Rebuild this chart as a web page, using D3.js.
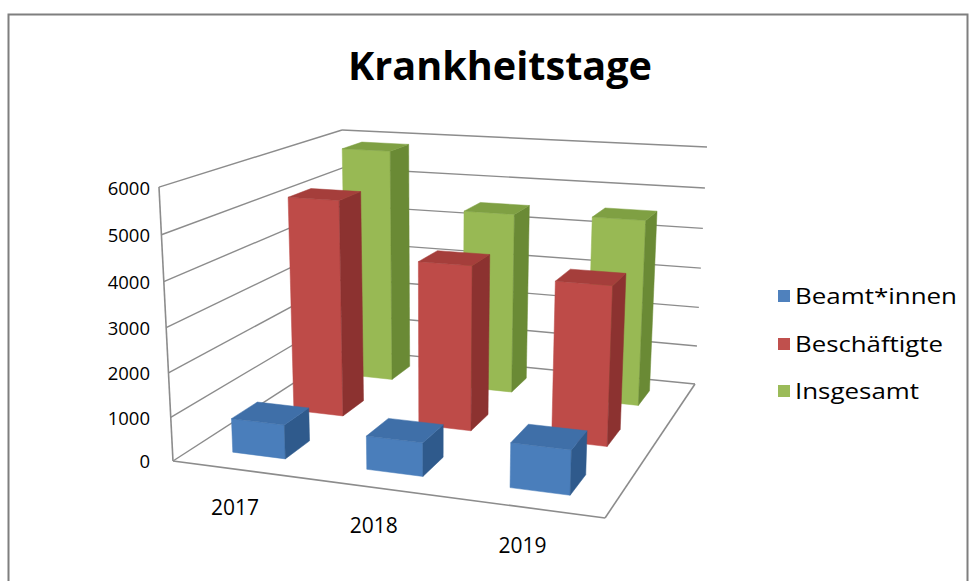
<!DOCTYPE html>
<html><head><meta charset="utf-8">
<script src="https://cdn.jsdelivr.net/npm/d3@7"></script>
<style>body{margin:0;background:#fff}</style>
</head><body>
<svg id="chart" width="974" height="581"></svg>
<script>
// ---------- data ----------
const categories = ["2017", "2018", "2019"];
const seriesNames = ["Beamt*innen", "Beschäftigte", "Insgesamt"];
const beamt = [780, 750, 980];
const beschaeftigte = [5160, 3880, 3680];
const insgesamt = [5850, 4480, 4535];
const yTicks = [0, 1000, 2000, 3000, 4000, 5000, 6000];
const seriesValues = [beamt, beschaeftigte, insgesamt];

// ---------- styles ----------
const faceColors = [
  {front: "#4A7EBB", top: "#3F6FA8", right: "#2F5A8C", left: "#3F6FA8"},
  {front: "#BE4B48", top: "#A53E3B", right: "#8C3230", left: "#A53E3B"},
  {front: "#98B954", top: "#7FA043", right: "#6A8A35", left: "#7FA043"}
];
const legendColors = ["#4F81BD", "#C0504D", "#9BBB59"];
const legendWidths = [162, 148, 124];
const gridColor = "#8C8C8C";

const svg = d3.select("#chart");

// ---------- world scales ----------
const xBand = d3.scaleBand().domain(categories).range([0, 3]).paddingInner(0.6).paddingOuter(0.3);
const zBand = d3.scaleBand().domain(seriesNames).range([0, 3]).paddingInner(0.6).paddingOuter(0.3);
const yWorld = d3.scaleLinear().domain([0, 6000]).range([0, 6]);
const X1 = 3, Z1 = 3, Y1 = yWorld(6000);

// ---------- camera calibration (world corners -> picture) ----------
const calib = [
  [[0, 0, 0], [173, 461]],
  [[0, 6, 0], [159, 187]],
  [[0, 6, 3], [342, 130]],
  [[3, 6, 3], [707, 147]],
  [[3, 0, 3], [695, 384]],
  [[3, 0, 0], [605, 518]]
];
function solveDLT(pts) {
  const A = [], b = [];
  pts.forEach(([[x, y, z], [u, v]]) => {
    A.push([x, y, z, 1, 0, 0, 0, 0, -u * x, -u * y, -u * z]); b.push(u);
    A.push([0, 0, 0, 0, x, y, z, 1, -v * x, -v * y, -v * z]); b.push(v);
  });
  const n = 11;
  const M = Array.from({length: n}, () => new Array(n + 1).fill(0));
  for (let i = 0; i < n; i++) {
    for (let j = 0; j < n; j++) {
      let s = 0; for (let k = 0; k < A.length; k++) s += A[k][i] * A[k][j];
      M[i][j] = s;
    }
    let s = 0; for (let k = 0; k < A.length; k++) s += A[k][i] * b[k];
    M[i][n] = s;
  }
  for (let c = 0; c < n; c++) {
    let p = c;
    for (let r = c + 1; r < n; r++) if (Math.abs(M[r][c]) > Math.abs(M[p][c])) p = r;
    [M[c], M[p]] = [M[p], M[c]];
    for (let r = 0; r < n; r++) {
      if (r === c) continue;
      const f = M[r][c] / M[c][c];
      for (let k = c; k <= n; k++) M[r][k] -= f * M[c][k];
    }
  }
  return M.map((row, i) => row[n] / row[i]);
}
const P = solveDLT(calib);
function proj([x, y, z]) {
  const w = P[8] * x + P[9] * y + P[10] * z + 1;
  return [(P[0] * x + P[1] * y + P[2] * z + P[3]) / w,
          (P[4] * x + P[5] * y + P[6] * z + P[7]) / w];
}
const line = d3.line();
const poly = pts => line(pts.map(proj)) + "Z";
const seg = (a, b) => line([proj(a), proj(b)]);

// ---------- frame ----------
svg.append("rect").attr("x", 8.5).attr("y", 14.5).attr("width", 959).attr("height", 580)
  .attr("fill", "#fff").attr("stroke", "#7F7F7F").attr("stroke-width", 2);

// ---------- title ----------
svg.append("text").attr("x", 500).attr("y", 80).attr("text-anchor", "middle")
  .attr("font-family", "Open Sans, sans-serif").attr("font-weight", "bold")
  .attr("font-size", 40).attr("textLength", 304).attr("lengthAdjust", "spacingAndGlyphs")
  .attr("fill", "#000").text("Krankheitstage");

// ---------- walls & floor ----------
const g = svg.append("g");
g.append("path").attr("d", poly([[0, 0, 0], [0, 0, Z1], [0, Y1, Z1], [0, Y1, 0]])).attr("fill", "#fff");
g.append("path").attr("d", poly([[0, 0, Z1], [X1, 0, Z1], [X1, Y1, Z1], [0, Y1, Z1]])).attr("fill", "#fff");
g.append("path").attr("d", poly([[0, 0, 0], [X1, 0, 0], [X1, 0, Z1], [0, 0, Z1]])).attr("fill", "#fff");

yTicks.forEach(t => {
  const y = yWorld(t);
  g.append("path").attr("d", seg([0, y, 0], [0, y, Z1])).attr("stroke", gridColor).attr("stroke-width", 1.4).attr("fill", "none");
  g.append("path").attr("d", seg([0, y, Z1], [X1, y, Z1])).attr("stroke", gridColor).attr("stroke-width", 1.4).attr("fill", "none");
});
g.append("path").attr("d", seg([0, 0, 0], [0, Y1, 0])).attr("stroke", gridColor).attr("stroke-width", 1.6).attr("fill", "none");
g.append("path").attr("d", seg([0, 0, 0], [X1, 0, 0])).attr("stroke", gridColor).attr("stroke-width", 1.6).attr("fill", "none");
g.append("path").attr("d", seg([X1, 0, 0], [X1, 0, Z1])).attr("stroke", gridColor).attr("stroke-width", 1.6).attr("fill", "none");

// ---------- bars ----------
function boxFaces(x0, x1, y0, y1, z0, z1) {
  return [
    {k: "front", p: [[x0, y0, z0], [x1, y0, z0], [x1, y1, z0], [x0, y1, z0]]},
    {k: "back",  p: [[x1, y0, z1], [x0, y0, z1], [x0, y1, z1], [x1, y1, z1]]},
    {k: "left",  p: [[x0, y0, z1], [x0, y0, z0], [x0, y1, z0], [x0, y1, z1]]},
    {k: "right", p: [[x1, y0, z0], [x1, y0, z1], [x1, y1, z1], [x1, y1, z0]]},
    {k: "top",   p: [[x0, y1, z0], [x1, y1, z0], [x1, y1, z1], [x0, y1, z1]]}
  ];
}
function signedArea(pts) {
  let s = 0;
  for (let i = 0; i < pts.length; i++) {
    const a = pts[i], b = pts[(i + 1) % pts.length];
    s += a[0] * b[1] - b[0] * a[1];
  }
  return s / 2;
}
const barsG = svg.append("g");
for (let s = seriesNames.length - 1; s >= 0; s--) {
  const z0 = zBand(seriesNames[s]), z1 = z0 + zBand.bandwidth();
  categories.forEach((c, i) => {
    const x0 = xBand(c), x1 = x0 + xBand.bandwidth();
    const y1 = yWorld(seriesValues[s][i]);
    boxFaces(x0, x1, 0, y1, z0, z1).forEach(f => {
      const pts = f.p.map(proj);
      if (signedArea(pts) < 0) {
        barsG.append("path").attr("d", line(pts) + "Z")
          .attr("fill", faceColors[s][f.k] || faceColors[s].front)
          .attr("stroke", faceColors[s][f.k] || faceColors[s].front).attr("stroke-width", 0.5)
          .attr("stroke-linejoin", "round");
      }
    });
  });
}

// ---------- y axis labels ----------
const labelX = proj([0, Y1, 0])[0] - 9;
yTicks.forEach(t => {
  svg.append("text").attr("x", labelX).attr("y", proj([0, yWorld(t), 0])[1])
    .attr("text-anchor", "end").attr("dominant-baseline", "central")
    .attr("font-family", "Open Sans, sans-serif").attr("font-size", 18.5).attr("fill", "#000")
    .text(t);
});

// ---------- category labels ----------
categories.forEach(c => {
  const [u, v] = proj([xBand(c) + xBand.bandwidth() / 2, 0, 0]);
  svg.append("text").attr("x", u - 4).attr("y", v + 37)
    .attr("text-anchor", "middle").attr("dominant-baseline", "central")
    .attr("font-family", "Open Sans, sans-serif").attr("font-size", 21).attr("fill", "#000")
    .text(c);
});

// ---------- legend ----------
const legendY = [296, 344, 391];
seriesNames.forEach((n, i) => {
  svg.append("rect").attr("x", 778).attr("y", legendY[i] - 6).attr("width", 12).attr("height", 12)
    .attr("fill", legendColors[i]);
  svg.append("text").attr("x", 795).attr("y", legendY[i]).attr("dominant-baseline", "central")
    .attr("font-family", "Open Sans, sans-serif").attr("font-size", 21).attr("fill", "#000")
    .attr("textLength", legendWidths[i]).attr("lengthAdjust", "spacingAndGlyphs")
    .text(n);
});
</script>
</body></html>
